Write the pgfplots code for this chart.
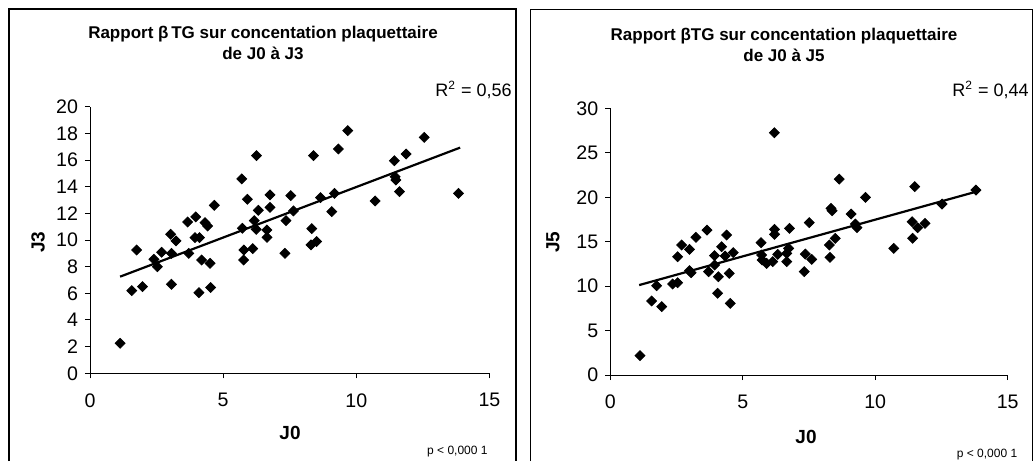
\documentclass[border=0pt]{standalone}
\usepackage{fontspec}
\setmainfont{Liberation Sans}
\usepackage{pgfplots}
\pgfplotsset{compat=1.18}

% J0 -> J3
\pgfplotstableread{
x y
1.13 2.25
1.57 6.20
1.75 9.25
1.97 6.50
2.40 8.55
2.53 8.00
2.69 9.08
3.03 10.43
3.06 9.00
3.06 6.68
3.23 9.93
3.67 11.35
3.71 9.00
3.97 11.73
3.94 10.18
4.11 10.18
4.09 6.05
4.19 8.50
4.32 11.30
4.42 11.05
4.51 8.25
4.53 6.43
4.67 12.60
5.70 14.58
5.72 10.88
5.78 9.25
5.77 8.50
5.91 13.05
6.11 9.35
6.17 11.45
6.24 10.80
6.25 16.33
6.32 12.23
6.64 10.75
6.65 10.20
6.76 13.38
6.76 12.45
7.32 9.00
7.36 11.45
7.54 13.33
7.64 12.18
8.33 10.85
8.30 9.63
8.39 16.33
8.51 9.88
8.66 13.18
9.08 12.13
9.18 13.50
9.33 16.83
9.68 18.20
10.71 12.93
11.43 15.95
11.46 14.75
11.49 14.50
11.62 13.63
11.87 16.45
12.55 17.70
13.84 13.50
}\dataA

% J0 -> J5
\pgfplotstableread{
x y
1.12 2.18
1.56 8.33
1.75 10.05
1.94 7.69
2.35 10.24
2.54 10.39
2.54 13.31
2.69 14.63
2.99 14.14
2.99 11.74
3.05 11.51
3.23 15.49
3.65 16.31
3.71 11.63
3.93 13.43
3.94 12.38
4.05 9.19
4.08 11.06
4.20 14.44
4.33 13.39
4.39 15.75
4.49 11.44
4.53 8.06
4.64 13.76
5.69 14.89
5.71 13.50
5.73 12.94
5.90 12.56
6.13 12.75
6.19 27.26
6.20 16.39
6.20 15.83
6.32 13.58
6.66 13.69
6.66 12.75
6.73 14.25
6.76 16.50
7.32 11.63
7.36 13.61
7.51 17.14
7.60 13.01
8.27 14.63
8.29 13.24
8.33 18.75
8.37 18.49
8.49 15.38
8.64 22.05
9.09 18.11
9.25 16.99
9.31 16.58
9.63 19.99
10.70 14.25
11.39 17.25
11.41 15.38
11.49 21.19
11.60 16.58
11.88 17.06
12.52 19.24
13.80 20.81
}\dataB

\pgfplotsset{
  panel/.style={
    scale only axis,
    anchor=south west,
    axis x line=bottom, axis y line=left,
    axis line style={-, line width=0.5pt},
    tick align=outside,
    major tick length=2.5pt,
    tick style={black, line width=0.5pt},
    xmin=0, xmax=15, ymin=0,
    xtick={0,5,10,15},
    ticklabel style={font=\fontsize{9.8}{10}\selectfont},
    /pgf/number format/assume math mode=true,
    xticklabel style={yshift=-4pt},
    clip=false,
  },
  pts/.style={only marks, mark=square*, mark size=1.75pt,
    mark options={rotate=45, fill=black, draw=black}, black},
  fit/.style={black, line width=1.1pt, mark=none},
}

\begin{document}
\begin{tikzpicture}
\useasboundingbox (0,0) rectangle (518pt,230.5pt);

% panel frames
\draw[line width=0.6pt] (4.5pt,0) -- (4.5pt,226pt) -- (258pt,226pt) -- (258pt,0);
\draw[line width=0.6pt] (265.4pt,0) -- (265.4pt,225.8pt) -- (516.3pt,225.8pt) -- (516.3pt,0);

\begin{axis}[panel, at={(45pt,43.85pt)}, width=199.7pt, height=133.3pt,
  ymax=20, ytick={0,2,...,20}]
\addplot[pts] table {\dataA};
\addplot[fit] coordinates {(1.13,7.25) (13.9,16.93)};
\end{axis}

\begin{axis}[panel, at={(305.15pt,43pt)}, width=198.7pt, height=133.3pt,
  ymax=30, ytick={0,5,...,30}]
\addplot[pts] table {\dataB};
\addplot[fit] coordinates {(1.09,10.12) (13.8,20.62)};
\end{axis}

% titles
\node[align=center, font=\bfseries\fontsize{8.5}{10.5}\selectfont] at (131.5pt,209pt)
  {Rapport β\,TG sur concentation plaquettaire\\de J0 à J3};
\node[align=center, font=\bfseries\fontsize{8.5}{10.5}\selectfont] at (392pt,208pt)
  {Rapport βTG sur concentation plaquettaire\\de J0 à J5};

% R squared
\node[anchor=east, font=\fontsize{9}{10}\selectfont, inner sep=0pt] at (256pt,185.5pt) {R\textsuperscript{2} = 0,56};
\node[anchor=east, font=\fontsize{9}{10}\selectfont, inner sep=0pt] at (514.5pt,185.5pt) {R\textsuperscript{2} = 0,44};

% axis labels
\node[rotate=90, font=\bfseries\fontsize{9.5}{10}\selectfont] at (19pt,109.5pt) {J3};
\node[font=\bfseries\fontsize{9.5}{10}\selectfont] at (145pt,14pt) {J0};
\node[rotate=90, font=\bfseries\fontsize{9.5}{10}\selectfont] at (276.5pt,109.5pt) {J5};
\node[font=\bfseries\fontsize{9.5}{10}\selectfont] at (403pt,12pt) {J0};

% p values
\node[anchor=east, inner sep=0pt, font=\fontsize{6}{7}\selectfont] at (244pt,4.5pt) {p < 0,000 1};
\node[anchor=east, inner sep=0pt, font=\fontsize{6}{7}\selectfont] at (508.8pt,3pt) {p < 0,000 1};
\end{tikzpicture}
\end{document}
